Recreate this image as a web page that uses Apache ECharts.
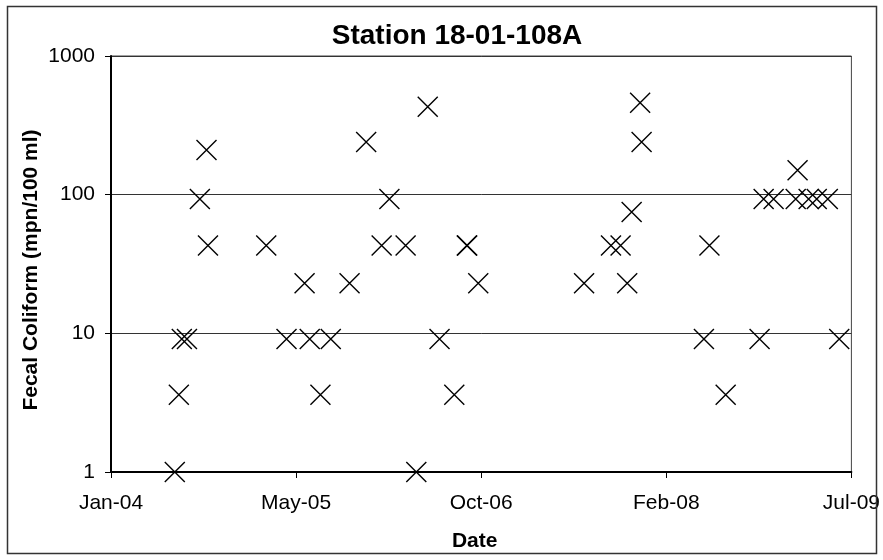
<!DOCTYPE html>
<html>
<head>
<meta charset="utf-8">
<script src="https://cdn.jsdelivr.net/npm/echarts@6/dist/echarts.min.js"></script>
<style>
html,body{margin:0;padding:0;background:#fff;}
#chart{width:883px;height:560px;}
</style>
</head>
<body>
<div id="chart"></div>
<script>
// Sample dates and fecal coliform values (mpn/100 ml)
const sampleDates = [
  '2004-06-22','2004-07-03','2004-07-11','2004-07-25','2004-08-29','2004-09-16','2004-09-20',
  '2005-02-25','2005-04-21','2005-06-09','2005-06-23','2005-07-22','2005-08-19','2005-10-09',
  '2005-11-23','2006-01-04','2006-01-25','2006-03-10','2006-04-08','2006-05-09','2006-06-10',
  '2006-07-20','2006-08-23','2006-08-24','2006-09-23',
  '2007-07-07','2007-09-18','2007-10-14','2007-11-01','2007-11-13','2007-12-06','2007-12-10',
  '2008-05-27','2008-06-11','2008-07-25','2008-10-25','2008-11-05','2008-12-02',
  '2009-01-31','2009-02-05','2009-03-07','2009-03-29','2009-04-28','2009-05-29'
];
const coliform = [
  1, 3.6, 9.1, 9.1, 93, 210, 43,
  43, 9.1, 23, 9.1, 3.6, 9.1, 23,
  240, 43, 93, 43, 1, 430, 9.1,
  3.6, 43, 43, 23,
  23, 43, 43, 23, 75, 460, 240,
  9.1, 43, 3.6, 9.1, 93, 93,
  93, 150, 93, 93, 93, 9.1
];
const yTicks = [1, 10, 100, 1000];
const xStart = '2004-01-01';
const xEnd = '2009-07-01';
const xTickDays = 502;
const monthNames = ['Jan','Feb','Mar','Apr','May','Jun','Jul','Aug','Sep','Oct','Nov','Dec'];

const DAY = 86400000;
const t0 = Date.parse(xStart + 'T00:00:00Z');
const toDays = s => Math.round((Date.parse(s + 'T00:00:00Z') - t0) / DAY);
const xMax = toDays(xEnd);
const fmtDay = d => {
  const dt = new Date(t0 + d * DAY);
  return monthNames[dt.getUTCMonth()] + '-' + String(dt.getUTCFullYear() % 100).padStart(2, '0');
};

const points = sampleDates.map((s, i) => [toDays(s), coliform[i]]);

const chart = echarts.init(document.getElementById('chart'), null, {renderer: 'canvas'});
const FONT = 'Liberation Sans, Arial, sans-serif';

chart.setOption({
  animation: false,
  backgroundColor: '#fff',
  grid: {
    left: 111, top: 56, width: 741.5, height: 416,
    show: true, borderColor: '#444', borderWidth: 1, backgroundColor: 'transparent'
  },
  xAxis: {
    type: 'value',
    min: 0, max: xMax, interval: xTickDays,
    axisLine: {show: true, onZero: false, lineStyle: {color: '#000', width: 2}},
    axisTick: {show: true, length: 6, lineStyle: {color: '#000', width: 1}},
    splitLine: {show: false},
    axisLabel: {
      formatter: v => fmtDay(v), fontFamily: FONT, fontSize: 21, color: '#000', margin: 21,
      showMinLabel: true, showMaxLabel: true
    },
    name: 'Date', nameLocation: 'middle', nameGap: 59,
    nameTextStyle: {fontFamily: FONT, fontSize: 21, fontWeight: 'bold', color: '#000', padding: [0, 13, 0, 0]}
  },
  yAxis: {
    type: 'log', logBase: 10, min: yTicks[0], max: yTicks[yTicks.length - 1],
    axisLine: {show: true, lineStyle: {color: '#000', width: 2}},
    axisTick: {show: true, length: 6, lineStyle: {color: '#000', width: 1}},
    minorTick: {show: false},
    splitLine: {show: true, lineStyle: {color: '#333', width: 1}},
    axisLabel: {fontFamily: FONT, fontSize: 21, color: '#000', margin: 16,
      formatter: v => String(v)},
    name: 'Fecal Coliform (mpn/100 ml)', nameLocation: 'middle', nameGap: 69,
    nameMoveOverlap: false,
    nameTextStyle: {fontFamily: FONT, fontSize: 21, fontWeight: 'bold', color: '#000', padding: [0, 12, 0, 0]}
  },
  series: [{
    type: 'scatter',
    data: points,
    symbol: 'path://M0,0L20,20M20,0L0,20',
    symbolSize: 20,
    itemStyle: {color: 'none', borderColor: '#000', borderWidth: 1.4, opacity: 1},
    emphasis: {disabled: true},
    clip: false
  }],
  graphic: [
    {type: 'rect', shape: {x: 7.5, y: 6.5, width: 869, height: 547},
     style: {fill: 'none', stroke: '#333', lineWidth: 1.5}, silent: true, z: 100},
    {type: 'text', x: 457, y: 36,
     style: {text: 'Station 18-01-108A', font: 'bold 28px ' + FONT, fill: '#000',
       textAlign: 'center', textVerticalAlign: 'middle'}}
  ]
});
</script>
</body>
</html>
